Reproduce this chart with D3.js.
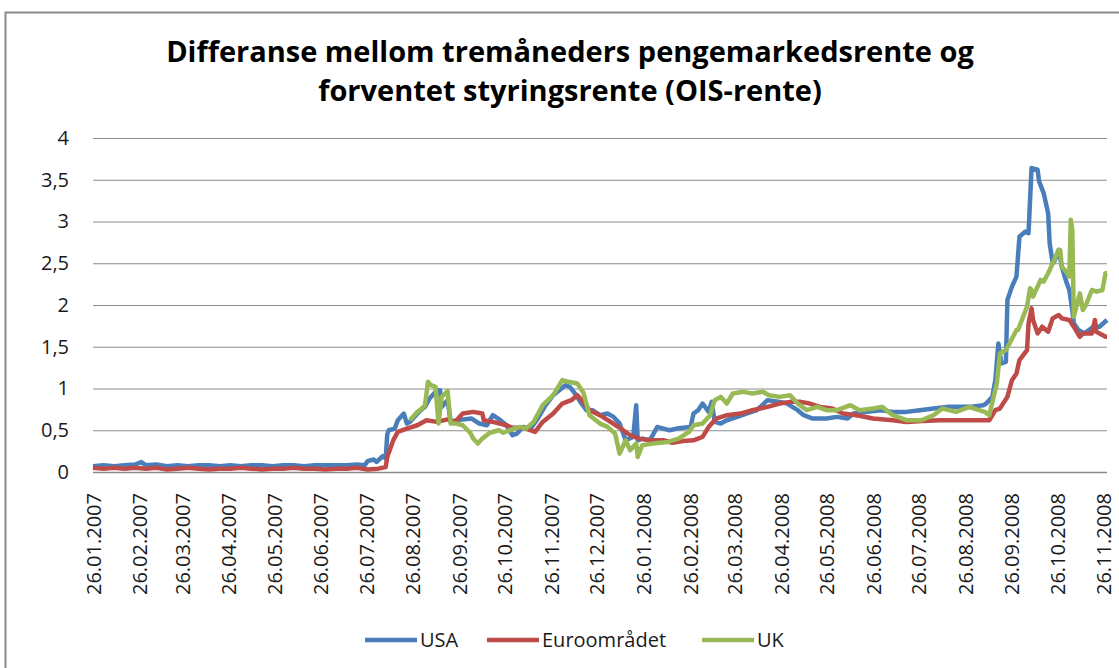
<!DOCTYPE html>
<meta charset="utf-8">
<style>
body { margin: 0; background: #fff; }
text { font-family: "Open Sans", sans-serif; fill: #1a1a1a; }
.title { font-weight: bold; font-size: 29px; fill: #000; }
.tick text { font-size: 20px; }
.grid line { stroke: #8c8c8c; }
.legend text { font-size: 20px; }
</style>
<body>
<script src="https://d3js.org/d3.v7.min.js"></script>
<script>
// tick labels on the date axis
const tickLabels = ["26.01.2007","26.02.2007","26.03.2007","26.04.2007","26.05.2007","26.06.2007",
  "26.07.2007","26.08.2007","26.09.2007","26.10.2007","26.11.2007","26.12.2007",
  "26.01.2008","26.02.2008","26.03.2008","26.04.2008","26.05.2008","26.06.2008",
  "26.07.2008","26.08.2008","26.09.2008","26.10.2008","26.11.2008"];
const yTicks = [0, 0.5, 1, 1.5, 2, 2.5, 3, 3.5, 4];
const seriesNames = ["USA", "Euroområdet", "UK"];
const colors = ["#4a7ebb", "#be4b48", "#98b954"];

// [date, percentage points]
const usa = [["26.01.2007",0.07],["02.02.2007",0.08],["09.02.2007",0.07],["16.02.2007",0.08],["23.02.2007",0.09],
  ["27.02.2007",0.12],["02.03.2007",0.08],["09.03.2007",0.09],["16.03.2007",0.07],["23.03.2007",0.08],
  ["30.03.2007",0.07],["06.04.2007",0.08],["13.04.2007",0.08],["20.04.2007",0.07],["27.04.2007",0.08],
  ["04.05.2007",0.07],["11.05.2007",0.08],["18.05.2007",0.08],["25.05.2007",0.07],["01.06.2007",0.08],
  ["08.06.2007",0.08],["15.06.2007",0.07],["22.06.2007",0.08],["29.06.2007",0.08],["06.07.2007",0.08],
  ["13.07.2007",0.08],["20.07.2007",0.09],["25.07.2007",0.08],["27.07.2007",0.13],["31.07.2007",0.15],
  ["02.08.2007",0.12],["06.08.2007",0.19],["08.08.2007",0.16],["09.08.2007",0.45],["10.08.2007",0.5],
  ["14.08.2007",0.52],["16.08.2007",0.62],["20.08.2007",0.7],["22.08.2007",0.58],["24.08.2007",0.6],
  ["30.08.2007",0.72],["03.09.2007",0.78],["06.09.2007",0.88],["11.09.2007",0.98],["13.09.2007",0.98],
  ["14.09.2007",0.78],["18.09.2007",0.86],["20.09.2007",0.6],["24.09.2007",0.62],["28.09.2007",0.63],
  ["04.10.2007",0.64],["09.10.2007",0.58],["14.10.2007",0.56],["18.10.2007",0.68],["23.10.2007",0.62],
  ["27.10.2007",0.56],["31.10.2007",0.44],["03.11.2007",0.46],["07.11.2007",0.54],["12.11.2007",0.52],
  ["16.11.2007",0.62],["22.11.2007",0.8],["27.11.2007",0.92],["05.12.2007",1.04],["08.12.2007",1.02],
  ["11.12.2007",0.95],["15.12.2007",0.84],["19.12.2007",0.74],["23.12.2007",0.74],["28.12.2007",0.68],
  ["02.01.2008",0.7],["06.01.2008",0.66],["10.01.2008",0.58],["14.01.2008",0.38],["19.01.2008",0.42],
  ["21.01.2008",0.8],["22.01.2008",0.38],["25.01.2008",0.4],["30.01.2008",0.38],["04.02.2008",0.54],
  ["08.02.2008",0.52],["12.02.2008",0.5],["17.02.2008",0.52],["21.02.2008",0.53],["26.02.2008",0.54],
  ["28.02.2008",0.7],["02.03.2008",0.74],["05.03.2008",0.82],["09.03.2008",0.72],["11.03.2008",0.84],
  ["13.03.2008",0.6],["17.03.2008",0.58],["21.03.2008",0.62],["28.03.2008",0.66],["03.04.2008",0.7],
  ["10.04.2008",0.74],["17.04.2008",0.86],["25.04.2008",0.84],["30.04.2008",0.82],["07.05.2008",0.74],
  ["11.05.2008",0.68],["17.05.2008",0.64],["26.05.2008",0.64],["02.06.2008",0.66],["09.06.2008",0.64],
  ["13.06.2008",0.7],["22.06.2008",0.72],["01.07.2008",0.74],["09.07.2008",0.72],["18.07.2008",0.72],
  ["27.07.2008",0.74],["05.08.2008",0.76],["14.08.2008",0.78],["29.08.2008",0.78],["07.09.2008",0.8],
  ["09.09.2008",0.82],["13.09.2008",0.9],["15.09.2008",1.1],["17.09.2008",1.54],["19.09.2008",1.3],
  ["22.09.2008",1.32],["23.09.2008",2.06],["26.09.2008",2.22],["29.09.2008",2.34],["01.10.2008",2.82],
  ["05.10.2008",2.88],["07.10.2008",2.86],["09.10.2008",3.64],["13.10.2008",3.62],["14.10.2008",3.48],
  ["17.10.2008",3.34],["20.10.2008",3.1],["21.10.2008",2.74],["23.10.2008",2.5],["24.10.2008",2.52],
  ["27.10.2008",2.66],["29.10.2008",2.46],["01.11.2008",2.28],["03.11.2008",2.18],["05.11.2008",1.94],
  ["06.11.2008",1.78],["09.11.2008",1.7],["13.11.2008",1.66],["19.11.2008",1.74],["23.11.2008",1.74],
  ["28.11.2008",1.82]];

const euro = [["26.01.2007",0.05],["02.02.2007",0.04],["09.02.2007",0.05],["16.02.2007",0.04],["23.02.2007",0.05],
  ["02.03.2007",0.04],["09.03.2007",0.05],["16.03.2007",0.03],["23.03.2007",0.04],["30.03.2007",0.05],
  ["06.04.2007",0.04],["13.04.2007",0.03],["20.04.2007",0.04],["27.04.2007",0.04],["04.05.2007",0.05],
  ["11.05.2007",0.04],["18.05.2007",0.03],["25.05.2007",0.04],["01.06.2007",0.04],["08.06.2007",0.05],
  ["15.06.2007",0.04],["22.06.2007",0.04],["29.06.2007",0.03],["06.07.2007",0.04],["13.07.2007",0.04],
  ["20.07.2007",0.05],["27.07.2007",0.03],["03.08.2007",0.04],["08.08.2007",0.06],["09.08.2007",0.18],
  ["13.08.2007",0.38],["16.08.2007",0.48],["22.08.2007",0.52],["29.08.2007",0.56],["04.09.2007",0.62],
  ["11.09.2007",0.6],["18.09.2007",0.63],["23.09.2007",0.6],["28.09.2007",0.7],["05.10.2007",0.72],
  ["11.10.2007",0.7],["12.10.2007",0.62],["18.10.2007",0.6],["27.10.2007",0.56],["31.10.2007",0.53],
  ["07.11.2007",0.53],["15.11.2007",0.48],["20.11.2007",0.6],["27.11.2007",0.7],["03.12.2007",0.82],
  ["09.12.2007",0.86],["13.12.2007",0.92],["16.12.2007",0.86],["21.12.2007",0.74],["28.12.2007",0.68],
  ["04.01.2008",0.6],["10.01.2008",0.53],["17.01.2008",0.44],["23.01.2008",0.4],["30.01.2008",0.38],
  ["08.02.2008",0.38],["14.02.2008",0.35],["21.02.2008",0.37],["28.02.2008",0.38],["05.03.2008",0.42],
  ["09.03.2008",0.54],["14.03.2008",0.64],["21.03.2008",0.68],["30.03.2008",0.7],["07.04.2008",0.74],
  ["17.04.2008",0.78],["25.04.2008",0.82],["02.05.2008",0.84],["09.05.2008",0.84],["15.05.2008",0.82],
  ["22.05.2008",0.78],["30.05.2008",0.76],["06.06.2008",0.7],["15.06.2008",0.68],["26.06.2008",0.64],
  ["09.07.2008",0.62],["18.07.2008",0.6],["29.07.2008",0.61],["09.08.2008",0.62],["29.08.2008",0.62],
  ["11.09.2008",0.62],["15.09.2008",0.74],["18.09.2008",0.76],["23.09.2008",0.9],["26.09.2008",1.1],
  ["29.09.2008",1.18],["01.10.2008",1.34],["06.10.2008",1.46],["07.10.2008",1.78],["09.10.2008",1.96],
  ["10.10.2008",1.82],["13.10.2008",1.66],["16.10.2008",1.74],["20.10.2008",1.68],["23.10.2008",1.84],
  ["27.10.2008",1.88],["29.10.2008",1.84],["03.11.2008",1.82],["06.11.2008",1.74],["10.11.2008",1.62],
  ["12.11.2008",1.66],["18.11.2008",1.66],["20.11.2008",1.82],["21.11.2008",1.68],["27.11.2008",1.62],
  ["28.11.2008",1.62]];

const uk = [["24.08.2007",0.62],["29.08.2007",0.72],["01.09.2007",0.76],["03.09.2007",0.8],["05.09.2007",1.08],
  ["07.09.2007",1.04],["10.09.2007",1.02],["12.09.2007",0.58],["14.09.2007",0.9],["17.09.2007",0.95],
  ["18.09.2007",0.97],["20.09.2007",0.58],["24.09.2007",0.58],["28.09.2007",0.56],["03.10.2007",0.47],
  ["05.10.2007",0.4],["08.10.2007",0.34],["11.10.2007",0.4],["16.10.2007",0.47],["22.10.2007",0.5],
  ["25.10.2007",0.47],["29.10.2007",0.5],["05.11.2007",0.54],["09.11.2007",0.52],["14.11.2007",0.6],
  ["20.11.2007",0.8],["27.11.2007",0.92],["03.12.2007",1.1],["07.12.2007",1.08],["13.12.2007",1.06],
  ["17.12.2007",0.95],["21.12.2007",0.68],["28.12.2007",0.58],["02.01.2008",0.54],["07.01.2008",0.46],
  ["10.01.2008",0.22],["14.01.2008",0.38],["17.01.2008",0.26],["21.01.2008",0.34],["22.01.2008",0.18],
  ["25.01.2008",0.32],["01.02.2008",0.34],["11.02.2008",0.36],["18.02.2008",0.4],["25.02.2008",0.48],
  ["28.02.2008",0.56],["05.03.2008",0.58],["10.03.2008",0.68],["13.03.2008",0.86],["17.03.2008",0.9],
  ["21.03.2008",0.82],["25.03.2008",0.94],["01.04.2008",0.96],["07.04.2008",0.94],["14.04.2008",0.96],
  ["18.04.2008",0.92],["25.04.2008",0.9],["02.05.2008",0.92],["07.05.2008",0.82],["13.05.2008",0.74],
  ["20.05.2008",0.78],["26.05.2008",0.74],["02.06.2008",0.74],["11.06.2008",0.8],["17.06.2008",0.74],
  ["26.06.2008",0.76],["02.07.2008",0.78],["09.07.2008",0.68],["18.07.2008",0.62],["28.07.2008",0.62],
  ["05.08.2008",0.68],["11.08.2008",0.76],["20.08.2008",0.72],["29.08.2008",0.78],["01.09.2008",0.76],
  ["08.09.2008",0.72],["11.09.2008",0.68],["12.09.2008",0.76],["16.09.2008",1.06],["18.09.2008",1.42],
  ["22.09.2008",1.46],["25.09.2008",1.56],["29.09.2008",1.7],["30.09.2008",1.7],["03.10.2008",1.84],
  ["06.10.2008",1.98],["08.10.2008",2.2],["09.10.2008",2.18],["10.10.2008",2.1],["15.10.2008",2.3],
  ["17.10.2008",2.28],["20.10.2008",2.38],["23.10.2008",2.5],["27.10.2008",2.66],["28.10.2008",2.66],
  ["29.10.2008",2.46],["31.10.2008",2.42],["03.11.2008",2.34],["04.11.2008",3.02],["05.11.2008",2.9],
  ["06.11.2008",1.86],["10.11.2008",2.14],["12.11.2008",1.94],["14.11.2008",2.0],["18.11.2008",2.18],
  ["21.11.2008",2.16],["25.11.2008",2.18],["27.11.2008",2.38],["28.11.2008",2.38]];

const W = 1119, H = 668;
const margin = {top: 138, left: 93, right: 12, bottom: 196};
const parse = d3.timeParse("%d.%m.%Y");

const svg = d3.select("body").append("svg")
    .attr("width", W)
    .attr("height", H);

// chart border
svg.append("rect")
    .attr("x", 5.5).attr("y", 12.5)
    .attr("width", W + 20).attr("height", H + 20)
    .attr("fill", "#fff")
    .attr("stroke", "#8a8a8a")
    .attr("stroke-width", 2);

const x = d3.scaleTime()
    .domain([parse("26.01.2007"), parse("28.11.2008")])
    .range([margin.left, W - margin.right]);
const y = d3.scaleLinear()
    .domain([0, 4])
    .range([H - margin.bottom, margin.top]);

// title
svg.append("text").attr("class", "title")
    .attr("x", 570).attr("y", 62).attr("text-anchor", "middle")
    .text("Differanse mellom tremåneders pengemarkedsrente og");
svg.append("text").attr("class", "title")
    .attr("x", 570).attr("y", 101).attr("text-anchor", "middle")
    .text("forventet styringsrente (OIS-rente)");

// y axis with gridlines
const yAxis = svg.append("g")
    .attr("class", "grid")
    .attr("transform", "translate(" + margin.left + ",0)")
    .call(d3.axisLeft(y)
      .tickValues(yTicks)
      .tickSize(-(W - margin.left - margin.right))
      .tickPadding(24)
      .tickFormat(d => String(d).replace(".", ",")));
yAxis.select(".domain").remove();
yAxis.selectAll(".tick line").filter(d => d === 0).attr("stroke", "#a6a6a6").attr("stroke-width", 1.5);

// x axis
const xAxis = svg.append("g")
    .attr("transform", "translate(0," + y(0) + ")")
    .call(d3.axisBottom(x)
      .tickValues(tickLabels.map(parse))
      .tickSize(0)
      .tickFormat(d3.timeFormat("%d.%m.%Y")));
xAxis.select(".domain").remove();
xAxis.selectAll(".tick text")
    .attr("transform", "rotate(-90)")
    .attr("text-anchor", "end")
    .attr("x", -21)
    .attr("y", 0)
    .attr("dy", "0.35em");

// lines
const line = d3.line()
    .x(d => x(parse(d[0])))
    .y(d => y(d[1]));

[usa, euro, uk].forEach((s, i) => {
  svg.append("path")
      .datum(s)
      .attr("fill", "none")
      .attr("stroke", colors[i])
      .attr("stroke-width", 4.5)
      .attr("stroke-linejoin", "round")
      .attr("d", line);
});

// legend
const legendX = [365, 487, 702];
const legend = svg.append("g").attr("class", "legend");
seriesNames.forEach((name, i) => {
  legend.append("line")
      .attr("x1", legendX[i]).attr("x2", legendX[i] + 52)
      .attr("y1", 640).attr("y2", 640)
      .attr("stroke", colors[i])
      .attr("stroke-width", 4.5);
  legend.append("text")
      .attr("x", legendX[i] + 55).attr("y", 647)
      .text(name);
});
</script>
</body>
